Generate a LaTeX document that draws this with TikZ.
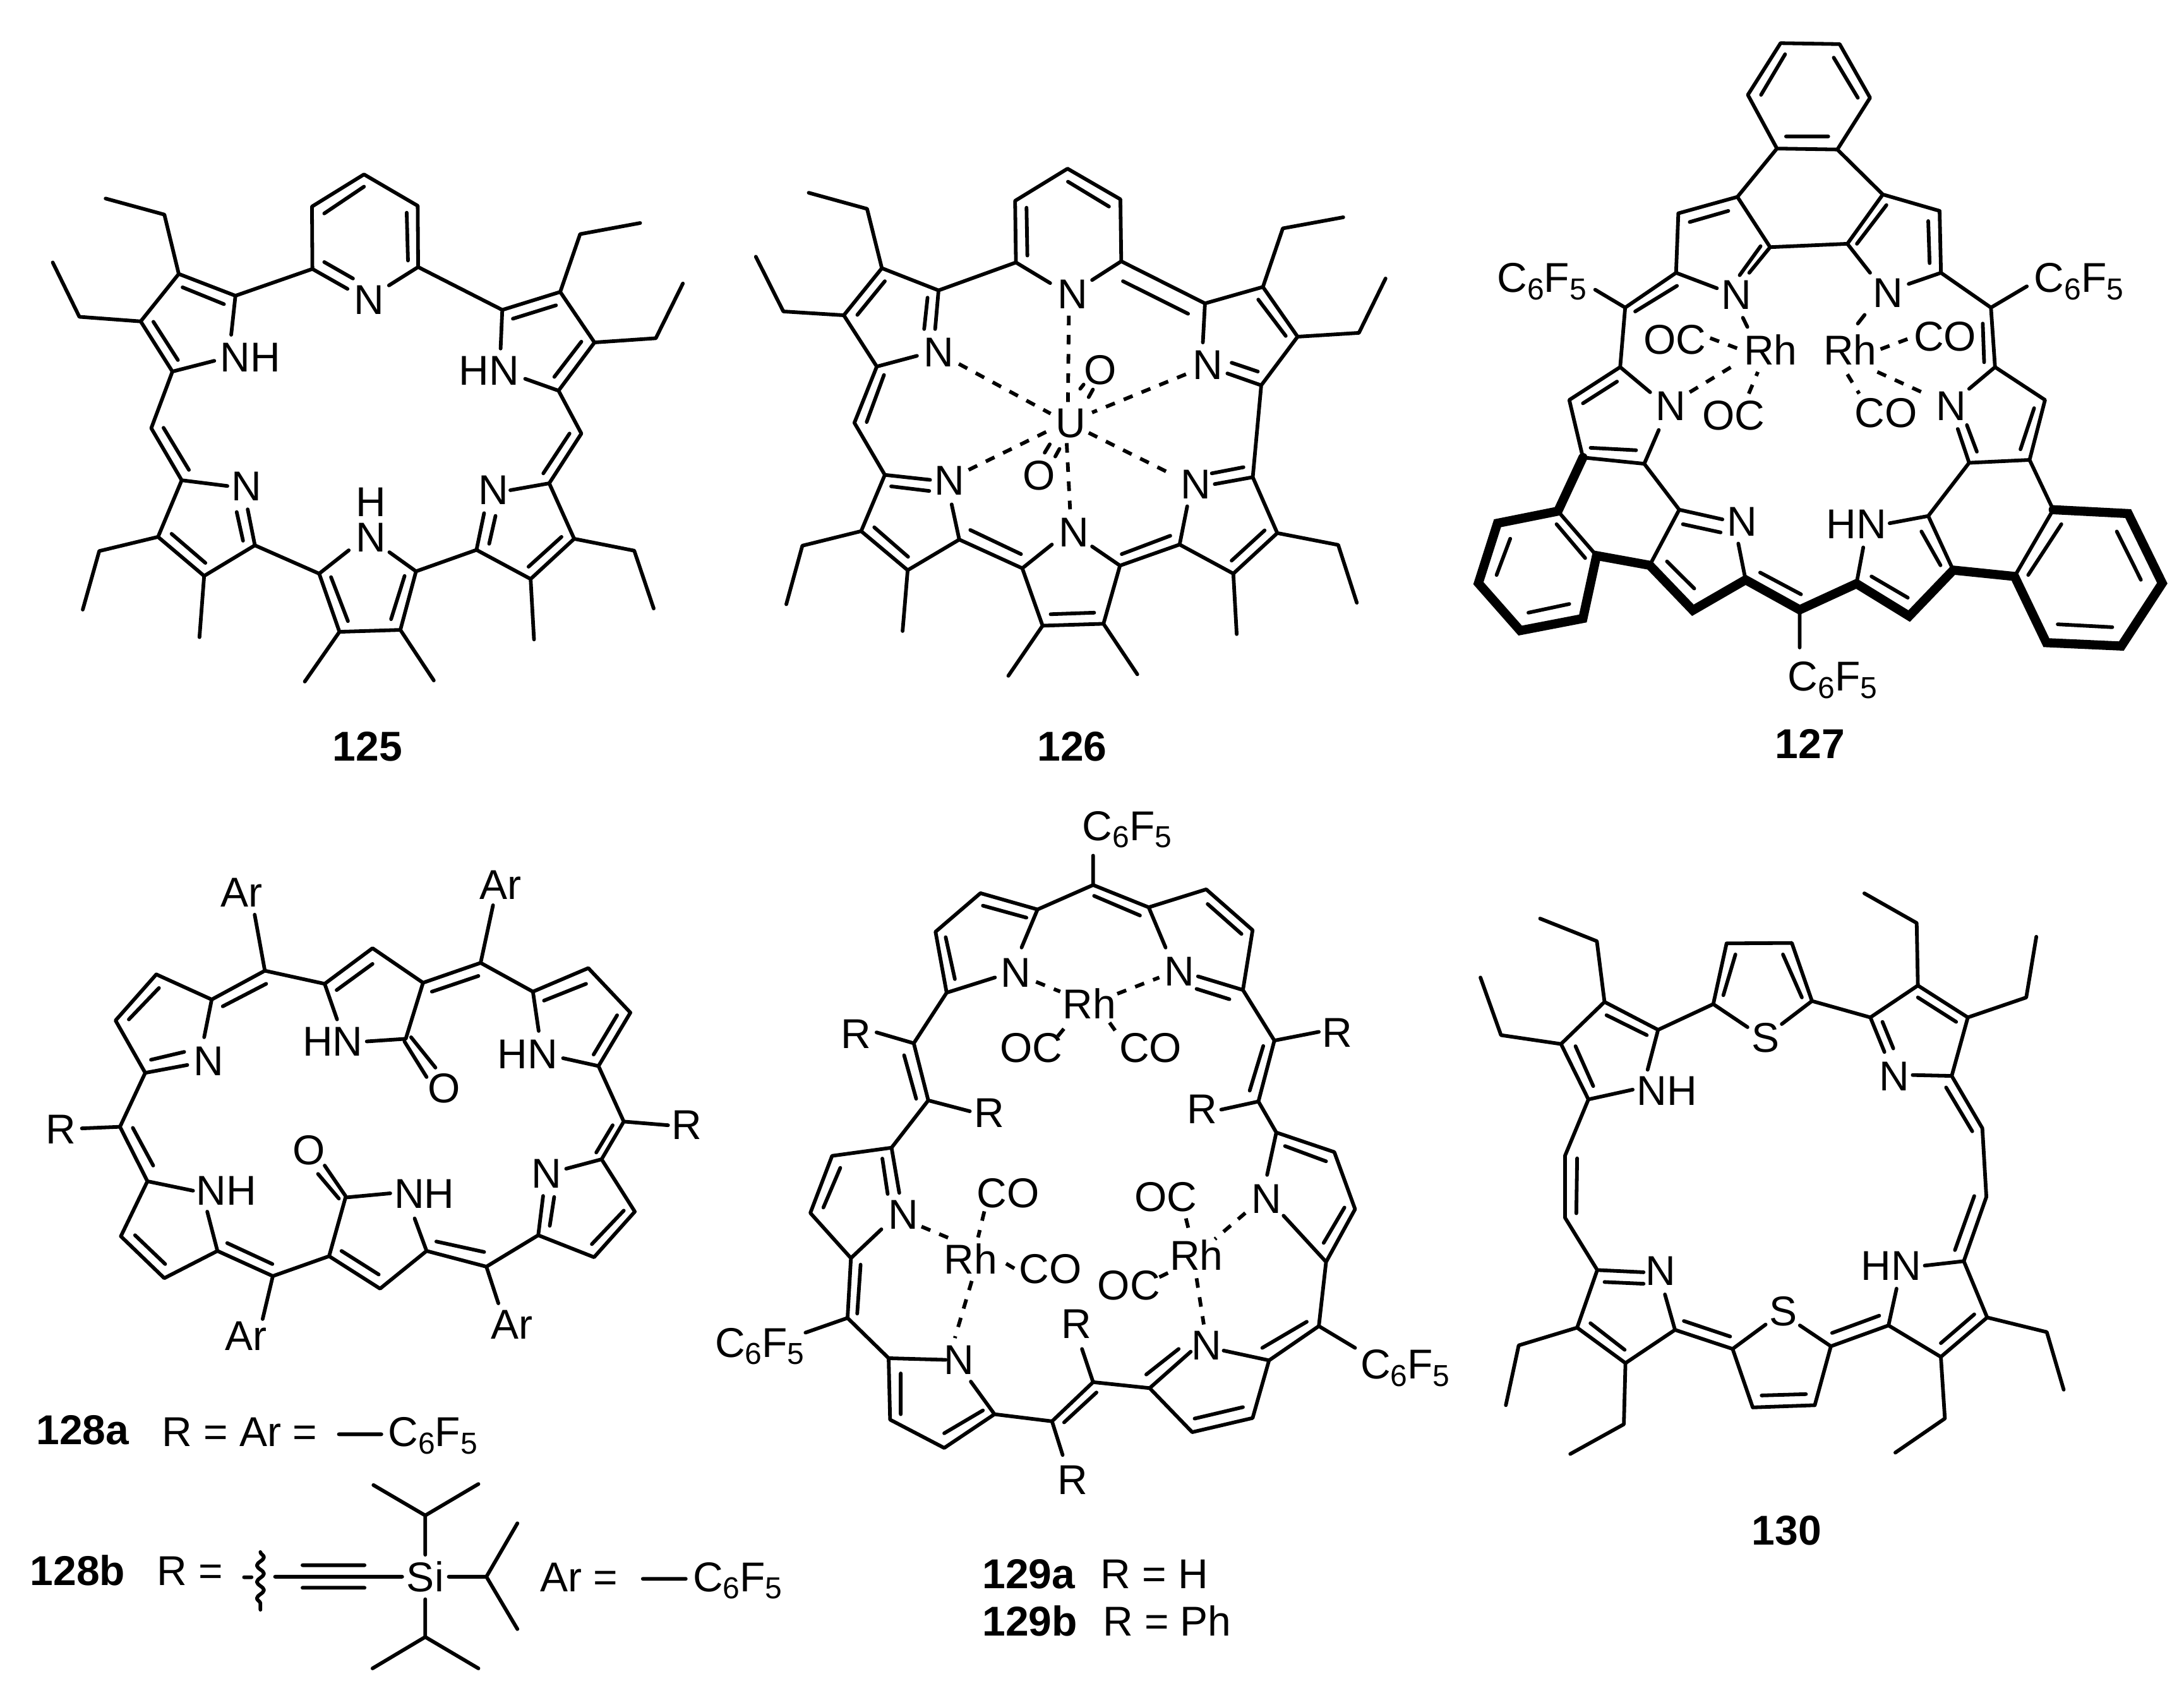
\documentclass[tikz,border=0pt]{standalone}
\usepackage{fontspec}
\setmainfont{Liberation Sans}
\usetikzlibrary{decorations.pathmorphing}
\newcounter{labno}
\tikzset{
  bond/.style={line width=1.45pt,line cap=round,line join=round,black},
  heavy/.style={line width=3.6pt,line cap=round,line join=miter,black},
  coord/.style={bond,dash pattern=on 3.8pt off 3.8pt,line cap=butt},
  atomc/.style={anchor=base,inner sep=0pt,font=\fontsize{16.5}{16.5}\selectfont},
  atoml/.style={anchor=base west,inner sep=0pt,font=\fontsize{16.5}{16.5}\selectfont},
  capt/.style={anchor=base,inner sep=0pt,font=\fontsize{16.5}{16.5}\selectfont\bfseries},
  captl/.style={anchor=base west,inner sep=0pt,font=\fontsize{16.5}{16.5}\selectfont\bfseries},
  stacked/.style={anchor=south,align=center,inner sep=0pt,font=\fontsize{16.5}{14}\selectfont},
  viewA/.style={x=0.1674pt,y=-0.15148pt,xshift=12.5pt,yshift=-62.5pt},
  viewB/.style={x=0.1674pt,y=-0.15148pt,xshift=295pt,yshift=-62.5pt},
  viewC/.style={x=0.17985pt,y=-0.19133pt,xshift=582.5pt,yshift=-7.5pt},
  viewD/.style={x=0.17538pt,y=-0.20727pt,xshift=7.5pt,yshift=-337.5pt},
  viewE/.style={x=0.19133pt,y=-0.21524pt,xshift=280pt,yshift=-317.5pt},
  viewF/.style={x=0.15944pt,y=-0.17538pt,xshift=582.5pt,yshift=-350pt},
}
\newcommand\cfive{C\raisebox{-2.9pt}{\fontsize{12}{12}\selectfont 6}F\raisebox{-2.9pt}{\fontsize{12}{12}\selectfont 5}}
\newcommand\atc[3]{\stepcounter{labno}\node[atomc] (lab\thelabno) at (#1,#2) {#3};}
\newcommand\atl[3]{\stepcounter{labno}\node[atoml] (lab\thelabno) at (#1,#2) {#3};}
\newcommand\cpc[3]{\stepcounter{labno}\node[capt] (lab\thelabno) at (#1,#2) {#3};}
\newcommand\cpl[3]{\stepcounter{labno}\node[captl] (lab\thelabno) at (#1,#2) {#3};}
\begin{document}
\begin{tikzpicture}
\useasboundingbox (0,0) rectangle (864.5pt,-667.75pt);
\fill[white] (0,0) rectangle (864.5pt,-667.75pt);
% ---------- 125
\begin{scope}[viewA]
\draw[bond] (664,290)--(663,127)--(786,43)--(913,125)--(914,285)
 (692,145)--(786,75) (887,143)--(890,268)
 (664,290)--(747,342) (692,272)--(760,315) (914,285)--(845,333)
 (664,290)--(482,360)
 (472,462)--(482,360)--(348,303)--(258,427)--(333,558)--(432,530)
 (455,382)--(357,338) (288,428)--(346,528)
 (348,303)--(314,148)--(175,106) (258,427)--(113,415)--(50,273)
 (333,558)--(283,706)--(355,842)--(463,857) (312,705)--(372,815)
 (355,842)--(299,990)--(408,1092)--(528,1012)--(511,918) (485,925)--(500,1000) (411,1058)--(331,982)
 (299,990)--(160,1027)--(121,1180) (408,1092)--(397,1252)
 (528,1012)--(680,1086)--(750,1025) (680,1086)--(728,1238)--(872,1233)--(909,1080)--(846,1030)
 (708,1095)--(748,1210) (882,1092)--(850,1205)
 (728,1238)--(646,1368) (872,1233)--(951,1365)
 (909,1080)--(1052,1024)--(1070,928) (1082,1008)--(1097,935)
 (1052,1024)--(1180,1100)--(1283,995)--(1224,850)--(1132,868) (1175,1068)--(1253,990)
 (1283,995)--(1425,1026)--(1471,1177) (1180,1100)--(1188,1258)
 (1224,850)--(1300,720)--(1246,608)--(1167,577) (1210,824)--(1272,720)
 (1246,608)--(1331,482)--(1250,350)--(1113,397)--(1109,498)
 (1236,572)--(1300,480) (1240,385)--(1138,420)
 (1250,350)--(1297,199)--(1439,170) (1331,482)--(1476,471)--(1540,328)
 (1113,397)--(914,285);
\atc{798}{408}{N}\atc{517}{558}{NH}\atc{508}{895}{N}\node[stacked] (labHN) at (802,1030) {H\\N};\atc{1092}{905}{N}\atc{1082}{594}{HN}
\cpc{794}{1575}{125}
\end{scope}
% ---------- 126
\begin{scope}[viewB]
\draw[bond] (640,273)--(638,112)--(762,28)--(887,108)--(889,270)
 (665,130)--(667,255) (763,62)--(860,127)
 (640,273)--(721,327) (889,270)--(820,319)
 (640,273)--(457,346)--(449,447) (431,365)--(423,447)
 (457,346)--(323,288)--(233,411)--(311,545)--(406,517) (330,322)--(265,410)
 (323,288)--(288,133)--(150,91) (233,411)--(90,401)--(25,258)
 (311,545)--(258,692)--(330,828)--(437,841) (328,567)--(287,690) (345,858)--(435,870)
 (488,905)--(506,997)--(384,1077)--(274,975)--(330,828) (385,1042)--(305,965)
 (274,975)--(135,1013)--(97,1166) (384,1077)--(372,1236)
 (506,997)--(655,1072)--(725,1010) (532,972)--(652,1035)
 (655,1072)--(703,1222)--(847,1217)--(886,1065)--(820,1015) (722,1192)--(825,1188)
 (703,1222)--(622,1353) (847,1217)--(927,1349)
 (886,1065)--(1027,1010)--(1045,910) (890,1035)--(1005,987)
 (1027,1010)--(1154,1086)--(1258,980)--(1200,834)--(1110,852) (1103,824)--(1178,808) (1150,1052)--(1228,973)
 (1258,980)--(1402,1011)--(1446,1162) (1154,1086)--(1162,1244)
 (1200,834)--(1220,594)--(1140,563) (1212,558)--(1150,535)
 (1220,594)--(1306,467)--(1224,337)--(1087,380)--(1082,482) (1278,465)--(1213,370)
 (1224,337)--(1271,184)--(1414,155) (1306,467)--(1451,457)--(1514,315)
 (1087,380)--(889,270) (1047,407)--(893,322)
 (792,603)--(800,592) (812,625)--(822,605) (708,770)--(720,748) (733,780)--(743,760);
\draw[coord] (765,412)--(763,640) (760,745)--(768,918) (505,538)--(722,668) (1042,565)--(820,665) (528,815)--(722,710) (812,718)--(1015,830);
\atc{774}{393}{N}\atc{457}{545}{N}\atc{483}{880}{N}\atc{777}{1015}{N}\atc{1065}{890}{N}\atc{1093}{578}{N}
\atc{770}{730}{U}\atc{840}{592}{O}\atc{695}{868}{O}
\cpc{773}{1575}{126}
\end{scope}
% ---------- 127
\begin{scope}[viewC]
\draw[bond] (680,50)--(810,52)--(877,163)--(805,270)--(672,268)--(608,157)--cycle
 (690,73)--(637,157) (797,80)--(850,163) (692,243)--(785,243)
 (672,268)--(585,368) (805,270)--(905,363)
 (585,368)--(455,402)--(450,525)--(540,557) (480,420)--(565,397)
 (585,368)--(657,472)--(611,525) (636,470)--(590,530)
 (657,472)--(827,465)--(905,363)--(1030,397)--(1033,525)--(962,548)
 (827,465)--(877,525) (848,465)--(913,385) (1005,418)--(1008,505)
 (1033,525)--(1143,597)--(1222,553)
 (450,525)--(338,597)--(272,560) (360,605)--(452,552)
 (338,597)--(327,720)
 (1143,597)--(1152,720) (1125,630)--(1128,710)
 (393,772)--(327,720)--(215,788)--(245,907)--(380,920)--(412,850)
 (245,795)--(320,750) (262,887)--(362,892)
 (380,920)--(457,1015)--(552,1035) (465,1045)--(548,1062)
 (457,1015)--(392,1130)
 (603,1160)--(587,1085)
 (190,1018)--(275,1110) (187,1045)--(250,1115) (85,1075)--(55,1150) (125,1228)--(215,1210)
 (430,1122)--(490,1178) (635,1145)--(725,1190) (880,1153)--(960,1197)
 (722,1222)--(722,1300)
 (847,1168)--(862,1093) (920,1043)--(1005,1028)--(1060,1140) (990,1060)--(1032,1130)
 (1005,1028)--(1095,918)--(1070,848) (1112,895)--(1090,840)
 (1095,918)--(1228,912)--(1262,788)--(1152,720)--(1095,765) (1208,890)--(1238,805)
 (1228,912)--(1280,1015)--(1195,1153) (1225,1150)--(1298,1045)
 (1420,1060)--(1473,1160) (1290,1252)--(1410,1258)
 (597,618)--(607,637) (850,630)--(865,612);
\draw[heavy] (245,907)--(190,1018)--(57,1043)--(15,1167)--(107,1265)--(245,1240)--(275,1110)--(392,1130)--(487,1223)--(603,1160)--(722,1222)--(847,1168)--(963,1235)--(1060,1140)--(1195,1153)--(1265,1290)--(1430,1297)--(1520,1167)--(1445,1023)--(1280,1015);
\draw[coord] (480,772)--(585,712) (610,775)--(630,730) (827,735)--(853,775) (893,730)--(1005,778) (525,660)--(595,685) (900,683)--(965,660);
\atc{583}{600}{N}\atc{917}{597}{N}\atc{438}{830}{N}\atc{595}{1070}{N}\atc{847}{1075}{HN}\atc{1055}{830}{N}
\atc{658}{715}{Rh}\atc{447}{693}{OC}\atc{577}{850}{OC}\atc{833}{715}{Rh}\atc{1042}{686}{CO}\atc{912}{845}{CO}
\atl{55}{565}{\cfive}\atl{1237}{565}{\cfive}\atl{695}{1390}{\cfive}
\cpc{745}{1530}{127}
\end{scope}
% ---------- 128
\begin{scope}[viewD]
\draw[bond] (532,118)--(555,225) (1070,100)--(1042,210)
 (555,225)--(435,280) (460,293)--(558,250) (555,225)--(690,250)
 (718,318)--(690,250)--(798,182)--(912,248)--(873,355)--(785,360) (717,262)--(798,212)
 (912,248)--(1042,210) (932,265)--(1037,235)
 (870,360)--(920,428) (885,352)--(940,410)
 (1042,210)--(1160,265)--(1173,340) (1160,265)--(1285,220)--(1380,305)--(1308,407)--(1228,392)
 (1185,282)--(1280,250) (1297,385)--(1350,310)
 (1308,407)--(1365,513)--(1465,520) (1365,513)--(1315,585)--(1235,603) (1340,520)--(1303,572)
 (1315,585)--(1390,685)--(1298,772)--(1172,730)--(1183,655) (1198,712)--(1208,657) (1365,683)--(1293,747)
 (1172,730)--(1055,790)--(920,760)--(893,698) (942,742)--(1050,762)
 (1055,790)--(1082,860)
 (920,760)--(815,832)--(700,770)--(737,658)--(838,650) (728,760)--(812,805)
 (737,655)--(690,597) (722,660)--(675,613)
 (700,770)--(573,808)--(448,760)--(425,685) (470,745)--(572,785)
 (573,808)--(550,890)
 (448,760)--(328,812)--(230,732)--(290,627)--(393,645) (330,785)--(262,730)
 (290,627)--(228,523)--(142,526) (303,597)--(257,525)
 (228,523)--(285,420)--(380,405) (298,395)--(373,380)
 (285,420)--(218,320)--(310,232)--(435,280)--(418,352) (248,318)--(316,258)
 (722,1110)--(818,1110)
 (578,1382)--(865,1382) (640,1360)--(780,1360) (640,1403)--(780,1403)
 (917,1340)--(917,1265) (800,1207)--(917,1265)--(1037,1205)
 (970,1382)--(1055,1382) (1125,1280)--(1055,1382)--(1125,1482)
 (917,1425)--(917,1497) (798,1557)--(917,1497)--(1037,1557)
 (508,1383)--(525,1383)
 (1408,1386)--(1505,1386);
\draw[bond,decorate,decoration={snake,amplitude=1.4pt,segment length=6.5pt}] (545,1335)--(545,1445);
\atc{503}{103}{Ar}\atc{1087}{88}{Ar}\atc{708}{388}{HN}\atc{960}{477}{O}\atc{1148}{412}{HN}\atc{1507}{547}{R}
\atc{1190}{640}{N}\atc{1113}{928}{Ar}\atc{915}{678}{NH}\atc{655}{595}{O}\atc{513}{950}{Ar}\atc{468}{672}{NH}\atc{95}{555}{R}\atc{428}{425}{N}
\cpl{38}{1130}{128a}\atl{322}{1133}{R = Ar =}\atl{832}{1133}{\cfive}
\cpl{24}{1398}{128b}\atl{310}{1398}{R =}\atc{917}{1410}{Si}\atl{1175}{1410}{Ar =}\atl{1520}{1410}{\cfive}
\end{scope}
% ---------- 129
\begin{scope}[viewE]
\draw[bond] (798,98)--(798,152)--(683,197)--(650,267) (798,152)--(913,193)--(948,267) (800,172)--(895,208)
 (683,197)--(565,167)--(472,238)--(495,350)--(595,322) (660,212)--(570,190) (493,248)--(512,325)
 (913,193)--(1032,160)--(1128,235)--(1108,345)--(1015,320) (1012,343)--(1080,362) (1035,187)--(1105,242)
 (495,350)--(427,443)--(350,423) (1108,345)--(1173,438)
 (427,443)--(457,548)--(543,568) (407,465)--(432,545) (457,548)--(381,635)--(397,718) (362,655)--(373,720)
 (381,635)--(258,650)--(213,755)--(297,838)--(360,785) (275,672)--(240,745)
 (297,838)--(290,948)--(203,975) (317,850)--(310,940) (290,948)--(375,1022)--(493,1025)
 (375,1022)--(378,1135)--(490,1187)--(594,1125)--(545,1065) (400,1050)--(400,1125) (490,1160)--(570,1118)
 (594,1125)--(713,1138)--(798,1066) (738,1140)--(805,1085) (713,1138)--(735,1200)
 (798,1066)--(775,1005) (798,1066)--(915,1077)--(1000,1010) (908,1052)--(975,1005)
 (915,1077)--(1003,1158)--(1128,1132)--(1162,1026)--(1068,1008) (1008,1133)--(1108,1112)
 (1162,1026)--(1265,963)--(1340,1003) (1148,1003)--(1240,955) (1265,963)--(1280,845)
 (1280,845)--(1340,748)--(1297,643)--(1177,607)--(1158,685) (1192,760)--(1280,845) (1275,810)--(1318,745) (1280,660)--(1195,632)
 (1177,607)--(1140,550)--(1173,438)--(1265,422) (1122,530)--(1150,448) (1140,550)--(1063,565);
\draw[coord] (680,330)--(730,348) (848,352)--(935,322) (725,430)--(748,405) (832,405)--(852,430)
 (443,780)--(510,805) (573,752)--(560,800) (618,848)--(637,858) (547,880)--(512,985)
 (990,765)--(997,790) (1113,755)--(1050,803) (935,873)--(965,860) (1012,875)--(1027,960);
\atl{775}{70}{\cfive}\atc{638}{340}{N}\atc{977}{337}{N}\atc{790}{398}{Rh}\atc{670}{478}{OC}\atc{917}{478}{CO}
\atc{307}{452}{R}\atc{583}{598}{R}\atc{1024}{590}{R}\atc{1303}{450}{R}
\atc{405}{785}{N}\atc{545}{867}{Rh}\atc{622}{745}{CO}\atc{710}{885}{CO}
\atc{1157}{755}{N}\atc{1012}{860}{Rh}\atc{948}{752}{OC}\atc{872}{915}{OC}
\atl{15}{1020}{\cfive}\atl{1350}{1060}{\cfive}
\atc{520}{1052}{N}\atc{1032}{1025}{N}\atc{763}{985}{R}\atc{755}{1272}{R}
\cpl{568}{1445}{129a}\atl{812}{1445}{R = H}\cpl{568}{1533}{129b}\atl{817}{1533}{R = Ph}
\end{scope}
% ---------- 130
\begin{scope}[viewF]
\draw[bond] (685,322)--(600,270)--(633,133)--(795,132)--(845,263)--(770,315) (625,250)--(655,158) (773,158)--(820,255)
 (600,270)--(463,328)--(437,418) (845,263)--(990,300)
 (463,328)--(330,265)--(222,360)--(290,485)--(400,463) (435,340)--(335,295) (258,365)--(302,455)
 (330,265)--(311,128)--(170,77) (222,360)--(73,340)--(22,210)
 (290,485)--(232,612)--(232,752)--(312,870)--(427,875) (262,618)--(260,742) (330,897)--(427,901)
 (480,925)--(505,1005)--(382,1080)--(262,1000)--(312,870) (380,1050)--(295,990)
 (262,1000)--(117,1040)--(85,1175) (382,1080)--(378,1218)--(245,1285)
 (505,1005)--(648,1048)--(730,993) (527,985)--(642,1020)
 (648,1048)--(698,1180)--(852,1175)--(892,1042)--(815,995) (720,1153)--(830,1150)
 (892,1042)--(1035,995)--(1055,912) (895,1012)--(1012,973)
 (1035,995)--(1165,1066)--(1280,977)--(1222,850)--(1125,860) (1165,1035)--(1248,970)
 (1280,977)--(1428,1010)--(1470,1140) (1165,1066)--(1175,1205)--(1052,1282)
 (1222,850)--(1278,705)--(1268,550)--(1192,432)--(1095,430) (1200,825)--(1248,703) (1243,557)--(1178,458)
 (1192,432)--(1232,300)--(1108,228)--(990,300)--(1025,378) (1020,310)--(1047,370) (1108,255)--(1203,310)
 (1108,228)--(1105,87)--(975,20) (1232,300)--(1377,255)--(1402,118);
\atc{730}{378}{S}\atc{485}{498}{NH}\atc{470}{905}{N}\atc{773}{995}{S}\atc{1042}{893}{HN}\atc{1050}{465}{N}
\cpc{782}{1490}{130}
\end{scope}
\end{tikzpicture}
\end{document}
